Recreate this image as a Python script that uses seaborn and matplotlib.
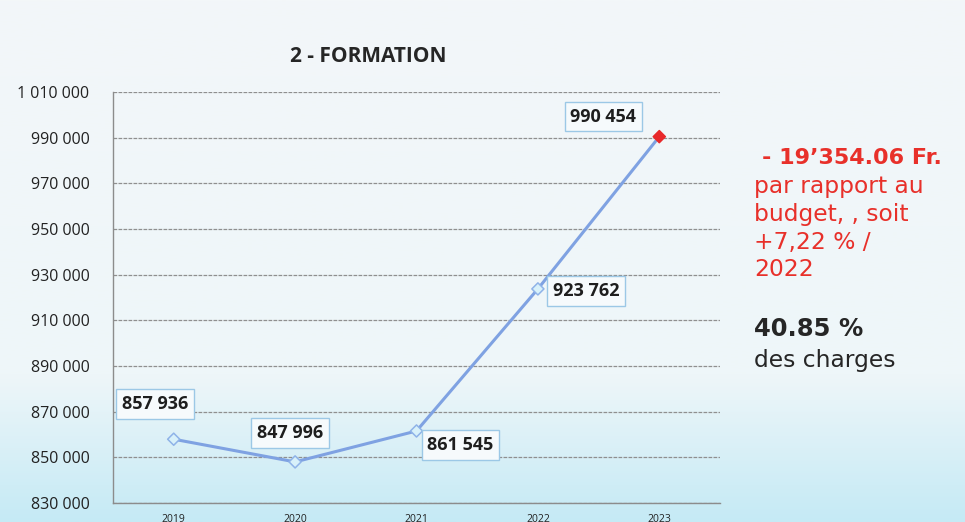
import numpy as np
import pandas as pd
import matplotlib
matplotlib.use("Agg")
import matplotlib.pyplot as plt
from matplotlib.colors import LinearSegmentedColormap
import seaborn as sns

# ---- data ----
years = ["2019", "2020", "2021", "2022", "2023"]
values = [857936, 847996, 861545, 923762, 990454]
value_labels = ["857 936", "847 996", "861 545", "923 762", "990 454"]
y_ticks = [830000, 850000, 870000, 890000, 910000, 930000, 950000, 970000, 990000, 1010000]
y_tick_labels = ["830 000", "850 000", "870 000", "890 000", "910 000", "930 000",
                 "950 000", "970 000", "990 000", "1 010 000"]
title = "2 - FORMATION"
note_red = ["- 19\u2019354.06 Fr.", "par rapport au", "budget, , soit", "+7,22 % /", "2022"]
note_dark = ["40.85 %", "des charges"]

sns.set_theme(style="white")
plt.rcParams['font.family'] = ['Open Sans', 'DejaVu Sans']

fig = plt.figure(figsize=(9.65, 5.22), dpi=100)

# background gradient
bg = fig.add_axes([0, 0, 1, 1], zorder=-10)
cmap = LinearSegmentedColormap.from_list("bg", [(0, "#f3f7f9"), (0.72, "#eef6f9"), (1.0, "#c5eaf5")])
grad = np.linspace(0, 1, 256).reshape(-1, 1)
bg.imshow(grad, aspect="auto", cmap=cmap, extent=[0, 1, 0, 1], origin="upper")
bg.set_axis_off()

ax = fig.add_axes([113 / 965, 1 - 503 / 522, (720 - 113) / 965, (503 - 92) / 522])
ax.patch.set_alpha(0)

df = pd.DataFrame({"year": years, "value": values})
df["x"] = np.arange(len(years))

sns.lineplot(data=df, x="x", y="value", ax=ax, color="#7fa2e2", linewidth=2.2, zorder=3)
face = ["#d8f1fa"] * (len(years) - 1) + ["#e8282a"]
edge = ["#8fb3e8"] * (len(years) - 1) + ["#e8282a"]
ax.scatter(df["x"], df["value"], marker="D", s=38, c=face, edgecolors=edge, linewidths=1.1, zorder=4)

offsets = [(-19, 35), (-5, 29), (44, -14), (48, -2), (-56, 20)]
for xi, v, lab, off in zip(df["x"], values, value_labels, offsets):
    ax.annotate(lab, (xi, v), xytext=off, textcoords="offset pixels", ha="center", va="center",
                fontsize=13, fontweight="bold", color="#1e1e1e", zorder=5,
                bbox=dict(boxstyle="square,pad=0.32", fc="#f6fafc", ec="#9cc8e6", lw=1.0))

ax.set_xlim(-0.5, len(years) - 0.5)
ax.set_ylim(830000, 1010000)
ax.set_yticks(y_ticks)
ax.set_yticklabels(y_tick_labels, fontsize=11.5, color="#222222")
ax.set_xticks(df["x"])
ax.set_xticklabels(years, fontsize=7.5, color="#222222")
ax.set_xticks(np.arange(-0.5, len(years), 1.0), minor=True)
ax.tick_params(axis="x", which="major", length=0, pad=8)
ax.tick_params(axis="x", which="minor", length=4, width=0.8, color="#888888", direction="out")
ax.tick_params(axis="y", length=5, width=0.8, color="#888888", direction="out", pad=12)
ax.set_xlabel("")
ax.set_ylabel("")
ax.grid(axis="y", color="#8f8f8f", linewidth=0.9, linestyle=(0, (3, 1)))
ax.set_axisbelow(True)
for s in ["top", "right"]:
    ax.spines[s].set_visible(False)
for s in ["left", "bottom"]:
    ax.spines[s].set_color("#8c8c8c")
    ax.spines[s].set_linewidth(1.0)

fig.text(368 / 965, 1 - 57 / 522, title, ha="center", va="center", fontsize=15, fontweight="bold", color="#262626")

# side notes
red = "#e8302a"
ys_red = [158, 186, 214, 242, 269]
for i, (t, yy) in enumerate(zip(note_red, ys_red)):
    fig.text(762 / 965 if i == 0 else 754 / 965, 1 - yy / 522, t, ha="left", va="center",
             fontsize=16 if i == 0 else 16.8,
             fontweight="bold" if i == 0 else "normal", color=red, family=["DejaVu Sans"])
fig.text(754 / 965, 1 - 329 / 522, note_dark[0], ha="left", va="center", fontsize=17.5, fontweight="bold",
         color="#262626", family=["DejaVu Sans"])
fig.text(754 / 965, 1 - 360 / 522, note_dark[1], ha="left", va="center", fontsize=16.8,
         color="#262626", family=["DejaVu Sans"])

fig.savefig("out.png", dpi=100)
